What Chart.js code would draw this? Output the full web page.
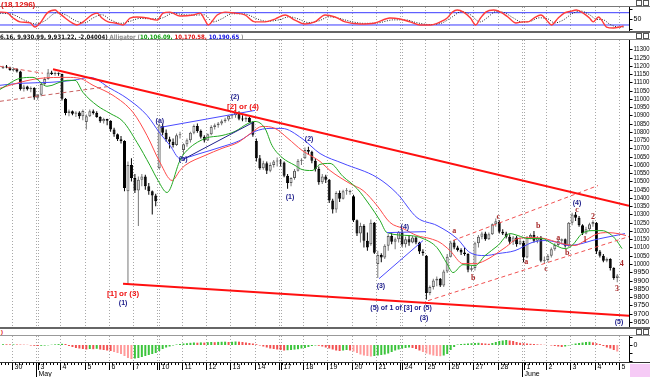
<!DOCTYPE html>
<html><head><meta charset="utf-8">
<script src="https://cdn.jsdelivr.net/npm/chart.js@4.4.1/dist/chart.umd.min.js"></script>
<style>
html,body{margin:0;padding:0;background:#fff;}
#wrap{position:relative;width:650px;height:377px;overflow:hidden;background:#fff;}
canvas{position:absolute;left:0;display:block;}
.ln{position:absolute;left:0;width:650px;}
.txt{position:absolute;white-space:nowrap;line-height:1;}
.ic{position:absolute;width:4px;height:4px;border:1px solid #555;background:#fff;}
</style></head><body><div id="wrap">
<canvas id="cS" width="650" height="24" style="top:7px"></canvas>
<canvas id="cM" width="650" height="287" style="top:40px"></canvas>
<canvas id="cH" width="650" height="41" style="top:336px"></canvas>
<div class="ln" style="top:6px;height:1px;background:#777"></div>
<div class="ln" style="top:31px;height:2px;background:#666"></div>
<div class="ln" style="top:39px;height:1px;background:#888"></div>
<div class="ln" style="top:327px;height:2px;background:#666"></div>
<div class="ln" style="top:335px;height:1px;background:#999"></div>
<div class="txt" style="left:1px;top:0px;font:bold 8px 'Liberation Sans',Arial,sans-serif;color:#e01010">(18.1296)</div>
<div class="txt" style="left:0;top:33px;font:bold 6px 'Liberation Sans Narrow','DejaVu Sans Condensed',sans-serif;color:#111"><span>6.16, 9,930.99, 9,931.22, -2.04004)</span> <span style="color:#8a8a8a">Alligator (</span><span style="color:#10a010">10,106.09, </span><span style="color:#e01010">10,170.58, </span><span style="color:#1010e0">10,190.65</span><span style="color:#8a8a8a"> )</span></div>
<div class="txt" style="left:1px;top:329px;font:bold 6px 'Liberation Sans',sans-serif;color:#e01010">)</div>
<div class="ic" style="left:636px;top:0px"></div><div class="ic" style="left:643px;top:0px"></div>
<div class="ic" style="left:636px;top:33px"></div><div class="ic" style="left:643px;top:33px"></div>
<div class="ic" style="left:636px;top:329px"></div><div class="ic" style="left:643px;top:329px"></div>
<div style="position:absolute;left:630px;top:364px;width:20px;height:13px;background:#f6cbf6"></div>
</div>
<script>
// ---------- DATA ----------
const firstBar = -3; // bar index of first candle (Apr 29, partial)
const opens = [
 11185,11195,11190,
 11175,11180,11165,11060,11075,11058,11065,
 11008,11025,11090,11120,11160,11150,11155,
 11150,11000,10915,10925,10910,10918,10895,
 10860,10895,10925,10915,10890,10865,10878,
 10868,10815,10785,10755,10745,10440,10600,
 10520,10445,10510,10530,10470,10440,10415,
 10580,10835,10795,10755,10740,10720,10780,
 10690,10725,10750,10795,10835,10805,10770,
 10748,10785,10830,10840,10850,10865,10875,
 10897,10900,10915,10880,10875,10885,10860,
 10745,10640,10580,10610,10565,10600,10620,
 10620,10615,10535,10490,10520,10565,10625,
 10640,10690,10680,10625,10575,10495,10530,
 10510,10385,10330,10430,10395,10440,10435,
 10410,10265,10185,10230,10140,10120,10250,
 10000,10055,10040,10110,10170,10135,10150,
 10190,10120,10150,10130,10160,10130,10075,
 10050,9825,9860,9900,9910,9870,9955,
 10044,10130,10100,10085,10070,10060,9965,
 9975,10125,10165,10185,10150,10180,10240,
 10255,10195,10185,10165,10135,10160,10120,
 10130,10040,10160,10175,10140,10160,10020,
 10024,10050,10090,10115,10140,10150,10110,
 10250,10300,10280,10235,10185,10210,10240,
 10250,10075,10050,10020,10030,9975,9915];
const highs = [
 11200,11205,11195,
 11190,11185,11170,11085,11080,11075,11070,
 11030,11100,11130,11180,11170,11165,11160,
 11152,11005,10935,10930,10925,10925,10935,
 10905,10935,10935,10925,10895,10885,10880,
 10870,10825,10790,10775,10750,10620,10640,
 10545,10530,10545,10540,10490,10445,10425,
 10850,10850,10815,10770,10760,10790,10800,
 10730,10760,10800,10845,10850,10815,10780,
 10790,10840,10850,10860,10875,10885,10900,
 10910,10930,10925,10900,10895,10890,10865,
 10760,10660,10625,10620,10615,10630,10645,
 10635,10620,10545,10525,10575,10635,10640,
 10705,10710,10685,10640,10590,10545,10540,
 10515,10395,10440,10445,10450,10460,10450,
 10420,10270,10250,10240,10190,10270,10255,
 10080,10065,10120,10180,10190,10160,10200,
 10205,10165,10175,10170,10165,10135,10090,
 10055,9870,9910,9925,9915,9965,10060,
 10140,10145,10110,10095,10100,10065,9990,
 10135,10175,10195,10195,10190,10245,10275,
 10265,10210,10195,10180,10170,10170,10160,
 10140,10170,10185,10200,10170,10170,10045,
 10060,10100,10125,10150,10155,10155,10255,
 10310,10315,10290,10240,10225,10250,10265,
 10255,10085,10060,10040,10035,9980,9940];
const lows = [
 11180,11185,11170,
 11165,11160,11050,11045,11050,11040,10995,
 10995,11015,11080,11115,11145,11140,11140,
 10990,10900,10895,10900,10890,10880,10870,
 10815,10890,10905,10885,10855,10850,10840,
 10800,10770,10745,10730,10440,9875,10500,
 10430,10230,10470,10450,10420,10300,10350,
 10575,10780,10740,10700,10705,10715,10760,
 10665,10710,10735,10785,10795,10760,10735,
 10745,10780,10815,10825,10840,10855,10865,
 10880,10885,10870,10865,10860,10855,10770,
 10620,10570,10570,10545,10555,10585,10590,
 10590,10525,10455,10470,10510,10560,10600,
 10635,10660,10610,10560,10480,10485,10490,
 10370,10305,10310,10375,10390,10420,10420,
 10255,10170,10130,10100,10080,10110,10060,
 9915,10010,10030,10080,10120,10090,10130,
 10105,10100,10110,10125,10120,10060,10050,
 9785,9810,9845,9865,9860,9860,9945,
 10040,10090,10075,10055,10050,9950,9955,
 9960,10100,10150,10140,10145,10175,10225,
 10185,10175,10155,10120,10115,10105,10115,
 10010,10035,10150,10130,10125,10010,10005,
 10010,10040,10080,10105,10120,10100,10105,
 10235,10260,10225,10175,10180,10200,10225,
 10060,10040,10010,10010,9960,9905,9890];
const closes = [
 11195,11190,11175,
 11180,11165,11060,11075,11058,11065,11008,
 11025,11090,11120,11160,11150,11155,11152,
 11000,10915,10925,10910,10918,10895,10927,
 10895,10925,10915,10890,10865,10878,10868,
 10815,10785,10755,10745,10460,10600,10520,
 10445,10510,10530,10470,10440,10415,10380,
 10840,10795,10755,10740,10720,10780,10785,
 10725,10750,10795,10835,10805,10770,10748,
 10785,10830,10840,10850,10865,10875,10897,
 10900,10920,10880,10875,10885,10860,10783,
 10640,10580,10610,10565,10600,10620,10620,
 10615,10535,10490,10520,10565,10625,10626,
 10690,10680,10625,10575,10495,10530,10510,
 10385,10330,10430,10395,10440,10440,10444,
 10265,10185,10230,10140,10100,10250,10068,
 10055,10040,10110,10170,10135,10150,10193,
 10120,10150,10130,10160,10130,10075,10067,
 9825,9860,9900,9910,9870,9955,10044,
 10130,10100,10085,10070,10060,9965,9974,
 10125,10165,10185,10150,10180,10240,10259,
 10195,10185,10165,10135,10160,10120,10137,
 10040,10160,10175,10140,10160,10020,10024,
 10050,10090,10115,10140,10150,10110,10249,
 10300,10280,10235,10185,10210,10240,10255,
 10075,10050,10020,10030,9975,9915,9931];

// Alligator lines (bar index, price)
const lipsX  = [-3.88,1.89,5.64,9.67,15.43,17.74,20.04,24.08,27.83,31.57,35.61,39.35,41.66,44.25,47.99,49.44,55.2,60.1,63.85,67.6,69.61,72.49,74.51,77.39,81.14,83.16,86.04,88.35,91.23,94.97,99.01,102.75,105.64,107.65,114.28,118.03,122.06,124.95,126.67,129.55,133.01,135.9,139.64,143.1,145.41,148.29,152.32,155.21,158.95,160.97,163.85,166.73,169.61,171.34,173.36,175.38];
const lipsY  = [11057,11124,11130,11076,11112,11112,11039,10960,10912,10863,10736,10597,10506,10433,10627,10675,10760,10778,10803,10851,10863,10821,10718,10645,10597,10572,10566,10603,10609,10530,10457,10354,10263,10190,10172,10154,10099,10002,9948,9996,9990,10051,10112,10184,10172,10154,10154,10124,10093,10112,10184,10202,10202,10190,10154,10093];
const teethX = [-3.88,1.89,7.65,15.43,19.18,22.93,28.69,34.45,38.49,42.23,45.69,47.99,49.44,55.2,60.1,64.71,68.75,71.63,75.38,79.12,83.16,88.35,91.23,96.99,100.74,104.77,108.52,112.26,116.3,120.04,122.93,125.81,129.55,133.01,135.9,141.66,145.41,149.44,153.19,156.94,161.83,164.71,168.46,171.34,174.22,176.53];
const teethY = [11064,11100,11124,11130,11124,11082,11021,10918,10778,10615,10506,10566,10597,10657,10700,10736,10797,10833,10821,10760,10688,10621,10566,10487,10445,10354,10251,10215,10172,10154,10130,10081,10002,10002,10021,10099,10154,10160,10154,10130,10112,10142,10184,10190,10184,10172];
const jawX   = [-3.88,1.89,10.53,17.16,22.06,27.83,32.73,38.49,42.23,45.12,47.99,53.76,59.5,65.29,69.61,73.93,77.39,83.16,88.35,94.97,104.77,110.54,116.3,122.06,127.83,131.57,135.9,139.64,144.54,149.44,153.19,156.94,159.82,163.85,166.73,170.48,173.36,176.24];
const jawY   = [11082,11094,11100,11112,11130,11064,11003,10900,10791,10718,10639,10669,10706,10748,10803,10821,10821,10760,10669,10609,10524,10427,10281,10233,10154,10069,10051,10063,10081,10130,10142,10130,10112,10124,10142,10160,10172,10184];

// Hand-drawn trend lines (bar index, price)
const trendUpper   = [[11.4,11179],[177.39,10353]];
const trendLower   = [[31.57,9881],[177.39,9686]];
const dashEarlyTop = [[-3.88,11197],[8.52,11155]];
const dashEarlyLow = [[-3.88,10985],[27.8,11076]];
const dashChanTop  = [[126.67,10142],[168.46,10475]];
const dashChanLow  = [[119.47,9778],[177.39,10166]];
const blueChanTop  = [[42.23,10827],[69.61,10930]];
const blueChanLow  = [[48.86,10633],[69.04,10857]];
const blueTriDiag  = [[105.35,9911],[118.03,10142]];
const blueTriFlat  = [[107.65,10190],[118.9,10196]];

// Wave-count labels: text, bar index, price, style
const waveLabels = [
 ['(2)',63.85,11009,'n'],['[2] or (4)',66.15,10954,'r'],['(a)',42.2,10863,'n'],['(b)',48.9,10633,'n'],
 ['(2)',85.2,10754,'n'],['(1)',79.7,10403,'n'],['(4)',112.8,10221,'n'],['(3)',105.9,9869,'n'],
 ['[1] or (3)',31.6,9820,'r'],['(1)',31.6,9766,'n'],['(5) of 1 of [3] or (5)',111.7,9735,'n'],['(3)',118.3,9675,'n'],
 ['(4)',162.4,10366,'n'],['(5)',174.5,9651,'n'],
 ['a',127,10202,'s'],['b',132.5,9917,'s'],['c',139.7,10287,'s'],['a',147.8,10015,'s'],['b',151.2,10233,'s'],
 ['c',153.5,9972,'s'],['a',157,10160,'s'],['b',159.6,10069,'s'],['c',162.4,10330,'s'],['1',164.7,10148,'s'],
 ['2',167,10287,'s'],['4',175.3,10003,'s'],['3',173.9,9851,'s']
];

// Stochastic (%K red, %D dotted) : bar index, value
const stochKX = [-3.9,-1.9,-0.1,1.9,4.8,6.2,7.7,9.7,12,12.8,14.9,16.9,18.3,20.1,22.6,24.1,25.5,27.3,29.3,31.6,33.6,35.6,38.5,41.4,43.1,45.1,48,51.8,53.8,55.2,56.1,58.7,61,63.9,66.7,69.6,72.5,75.4,78.3,81.1,84,86.9,89.8,92.7,95.6,99.9,104.2,108.5,111.4,114.3,117.2,120.1,123,125,126.5,127.9,129.7,131.7,133.2,134.6,136.1,138.4,140.4,142.5,144.8,146.8,148.3,150,152,154.1,155,157,158.7,160.8,162.2,164.2,166,167.1,168.6,169.5,170.9,172.9,174.7,175.8];
const stochKY = [83,80,54,35,30,10,30,78,93,83,54,30,20,35,69,78,54,35,30,20,54,59,54,44,78,83,64,69,78,44,20,69,83,78,69,35,35,49,69,44,25,35,69,59,35,25,30,54,49,35,20,20,35,54,83,93,83,54,20,54,83,93,83,59,30,35,35,54,69,35,20,54,78,88,93,78,54,35,59,44,10,5,10,15];
const stochDX = [-3.9,0,3,6.5,9,12.5,15,18,20.5,23,25.5,28,31,33.5,36.5,40,43,46,49,52,55,57.5,60,63,66.5,70.5,73,76.5,79.5,82,85,88,91,94,97,101,105,109.5,113,116,120,123.5,126.5,129,131.5,134.5,136.5,139,141.5,144,146.5,149,151.5,154,156,158.5,161,163.5,166,168,170,172,174.5,176];
const stochDY = [78,70,45,25,40,80,70,40,30,55,70,45,28,38,52,50,55,78,70,68,70,35,50,75,74,48,38,45,60,50,32,40,60,52,38,28,30,45,45,32,22,30,60,85,72,35,55,85,80,55,35,38,55,50,30,45,75,88,70,48,45,22,10,10];
const stochLevels = [80,20];

// Oscillator histogram, one value per candle
const histValues = [
 0.8,0.7,0.6,0.6,0.5,0.4,0.3,0.2,
 -0.5,-0.8,-1,-0.8,-0.6,
 -0.3,0.3,0.6,0.9, 1.2,1.0,
 -1,-2,-3,-3.5,-4,-4.5,
 -4,-4.2,-3.8,-4.5,-5,-5.5,
 -6,-7,-8,-9,-11,-13,-14,
 -13.5,-13,-12,-11,-10,-9,-8,
 -6,-4,-2.5, -1.5,-0.5,0.5,1,1.5,1.8,
 2.2,2.5,2.3,2.6,2.4, 2.8,3,2.8,3.1,
 3.2,3.3,3.0,3.2,3.5,3.3,3.0,2.5,2.0,1.5,0.8,
 -0.5,-1.5,-2.5,-3.5,-4,-4.5,-5,-5.5,-5.2,-5.0,-4.6,-4.2,
 -3.5,-3,-2, -1,-0.5,-0.8,-1.5,
 -2.5,-3.5,-4.5,-5.5,-6, -5.5,-5,-5.5,-6.5,
 -8,-9.5,-10.5,-11, -11.5,-11,-10.5,-10,-9.5,
 -8.5,-7,-5.5,-4.5, -3.5,-3,-2.5,-3,
 -4,-5.5,-7,-8.5, -9.5,-10.5,-11,-11.2,-10.5,-9,
 -5,-2, 0.5,1,1.2,1.5,1.8,2,2.2, 1.8,1.5,1.2,
 2,3,4,4.5,5, 4.5,4,3,2.2, 1.8,1.5,1.2,1.0,
 0.6,0.4,0.2,0, -0.5,-1,-1.5,-2,-1.5, -0.5,0.5,1.5,
 2,2.5,3,3.2, 2.6,1.8,1, -1,-2.5,-3.5, -5,-6.5];

const priceTicks = [11300,11250,11200,11150,11100,11050,11000,10950,10900,10850,10800,10750,10700,10650,10600,10550,10500,10450,10400,10350,10300,10250,10200,10150,10100,10050,10000,9950,9900,9850,9800,9750,9700,9650];
const dayLabels = ['30','3','4','5','6','7','10','11','12','13','14','17','18','19','20','21','24','25','26','27','28','1','2','3','4','5'];
const monthNames = {1:'May', 21:'June'};
const weekStarts = [1,6,11,16,21];

// ---------- RENDERING ----------
const X_MIN = -3.875, X_MAX = 177.39, BARS_PER_DAY = 7;
const AXFONT = "7px 'Liberation Sans',Arial,sans-serif";
const pts = (xs, ys) => xs.slice(0, Math.min(xs.length, ys.length)).map((x,k)=>({x, y: ys[k]}));
const seg = p => p.map(([x,y])=>({x,y}));
const baseOpts = (ymin, ymax, padBottom) => ({
  responsive:false, animation:false, events:[], devicePixelRatio:1,
  layout:{padding:{left:0,right:21,top:0,bottom:padBottom||0}},
  plugins:{legend:{display:false}, tooltip:{enabled:false}},
  scales:{ x:{type:'linear', min:X_MIN, max:X_MAX, display:false, offset:false},
           y:{min:ymin, max:ymax, display:false} }
});
const dayGrid = {
  id:'dayGrid',
  beforeDatasetsDraw(ch){
    const {ctx, chartArea:a, scales:{x}} = ch;
    ctx.save(); ctx.strokeStyle='#a8a8a8'; ctx.lineWidth=1; ctx.setLineDash([1,2]);
    const vl = px => { ctx.beginPath(); ctx.moveTo(px,a.top); ctx.lineTo(px,a.bottom); ctx.stroke(); };
    dayLabels.forEach((d,k)=>{
      const px = Math.round(x.getPixelForValue(BARS_PER_DAY*k-0.5))+0.5;
      vl(px); if (weekStarts.includes(k)) vl(px+2);
    });
    ctx.restore();
  }
};
function rightAxis(ticks, labels){
  return { id:'rightAxis', afterDraw(ch){
    const {ctx, chartArea:a, scales:{y}} = ch;
    ctx.save(); ctx.strokeStyle='#000'; ctx.lineWidth=1;
    const ax = Math.round(a.right)+0.5;
    ctx.beginPath(); ctx.moveTo(ax,a.top); ctx.lineTo(ax,a.bottom); ctx.stroke();
    ctx.font = AXFONT; ctx.fillStyle='#000'; ctx.textAlign='left'; ctx.textBaseline='middle';
    ticks.forEach((v,k)=>{
      const py = Math.round(y.getPixelForValue(v))+0.5;
      ctx.beginPath(); ctx.moveTo(ax,py); ctx.lineTo(ax+3,py); ctx.stroke();
      if (labels[k]) ctx.fillText(labels[k], ax+4, py, 16);
    });
    ctx.restore();
  }};
}
const waveText = {
  id:'waveText',
  afterDatasetsDraw(ch){
    const {ctx, scales:{x,y}} = ch;
    ctx.save(); ctx.textAlign='center'; ctx.textBaseline='middle';
    const st = { n:["bold 7px 'Liberation Sans',Arial,sans-serif",'#1c1c8a'],
                 r:["bold 8px 'Liberation Sans',Arial,sans-serif",'#ee1111'],
                 s:["bold 8px 'Liberation Serif',serif",'#a82a2a'] };
    waveLabels.forEach(([t,bx,p,s])=>{
      ctx.font = st[s][0]; ctx.fillStyle = st[s][1];
      ctx.fillText(t, x.getPixelForValue(bx), y.getPixelForValue(p));
    });
    ctx.restore();
  }
};
const dateAxis = {
  id:'dateAxis',
  afterDraw(ch){
    const {ctx, chartArea:a, scales:{x}} = ch;
    const y0 = Math.round(a.bottom);
    ctx.save();
    ctx.fillStyle='#333'; ctx.fillRect(0,y0,650,1);
    ctx.strokeStyle='#000'; ctx.lineWidth=1;
    for (let k=0;k<opens.length;k++){
      const px = Math.round(x.getPixelForValue(firstBar+k-0.5))+0.5;
      ctx.beginPath(); ctx.moveTo(px,y0+1); ctx.lineTo(px,y0+3); ctx.stroke();
    }
    ctx.font = AXFONT; ctx.fillStyle='#000'; ctx.textAlign='left'; ctx.textBaseline='middle';
    dayLabels.forEach((lab,k)=>{
      const px = Math.round(x.getPixelForValue(BARS_PER_DAY*k-0.5))+0.5;
      const bottom = monthNames[k] ? ch.height : y0+8;
      ctx.beginPath(); ctx.moveTo(px,y0+1); ctx.lineTo(px,bottom); ctx.stroke();
      let lx = px+2;
      if (weekStarts.includes(k)) { ctx.beginPath(); ctx.moveTo(px+2,y0+1); ctx.lineTo(px+2,y0+8); ctx.stroke(); lx = px+4; }
      ctx.fillText(lab, lx, y0+5.5);
      if (monthNames[k]) ctx.fillText(monthNames[k], px+2, y0+12);
    });
    ctx.restore();
  }
};

// Stochastic panel
new Chart(document.getElementById('cS'), {
  type:'line',
  data:{ datasets:[
    ...stochLevels.map(v=>({data:[{x:X_MIN,y:v},{x:X_MAX,y:v}], borderColor:'#3a3aff', borderWidth:1, pointRadius:0, order:5})),
    {data:pts(stochDX,stochDY), borderColor:'#222', borderWidth:1, borderDash:[1,1.5], pointRadius:0, tension:0.4, cubicInterpolationMode:'monotone', order:2},
    {data:pts(stochKX,stochKY), borderColor:'#ff3b3b', borderWidth:1.4, pointRadius:0, tension:0.4, cubicInterpolationMode:'monotone', order:1}
  ]},
  options: baseOpts(-9.3, 107.8),
  plugins:[dayGrid, rightAxis([100,50,0],['','50',''])]
});

// Main price panel
const bars = opens.map((o,k)=>({i:firstBar+k, o, h:highs[k], l:lows[k], c:closes[k]}));
const lineDS = (data, color, width, dash, order) => ({type:'line', data, borderColor:color, borderWidth:width, borderDash:dash||[], pointRadius:0, tension:0, order});
new Chart(document.getElementById('cM'), {
  type:'bar',
  data:{ datasets:[
    {type:'bar', data:bars.map(b=>({x:b.i, y:[b.l,b.h]})), backgroundColor:bars.map(b=>b.c>=b.o?'#777':'#000'),
     barThickness:1, grouped:false, borderWidth:0, inflateAmount:0, order:20},
    {type:'bar', data:bars.map(b=>({x:b.i, y:[b.o,b.c]})), backgroundColor:bars.map(b=>b.c>=b.o?'#dedede':'#000'),
     borderColor:bars.map(b=>b.c>=b.o?'#5a5a5a':'#000'), borderWidth:1, borderSkipped:false, barThickness:3, minBarLength:1,
     grouped:false, inflateAmount:0, order:19},
    {type:'line', data:pts(jawX,jawY), borderColor:'#4848ff', borderWidth:1, pointRadius:0, tension:0.4, cubicInterpolationMode:'monotone', order:10},
    {type:'line', data:pts(teethX,teethY), borderColor:'#ff4a4a', borderWidth:1, pointRadius:0, tension:0.4, cubicInterpolationMode:'monotone', order:9},
    {type:'line', data:pts(lipsX,lipsY), borderColor:'#22a822', borderWidth:1, pointRadius:0, tension:0.4, cubicInterpolationMode:'monotone', order:8},
    lineDS(seg(dashEarlyTop),'#e05a5a',1,[4,3],4),
    lineDS(seg(dashEarlyLow),'#c86060',1,[4,3],4),
    lineDS(seg(dashChanTop),'#f05050',1,[4,3],4),
    lineDS(seg(dashChanLow),'#f05050',1,[4,3],4),
    lineDS(seg(blueChanTop),'#4a4aff',1,null,3),
    lineDS(seg(blueChanLow),'#20208a',1,null,3),
    lineDS(seg(blueTriDiag),'#4a4aff',1,null,3),
    lineDS(seg(blueTriFlat),'#4a4aff',1,null,3),
    lineDS(seg(trendUpper),'#ff1010',2,null,1),
    lineDS(seg(trendLower),'#ff1010',2,null,1)
  ]},
  options: baseOpts(9618.5, 11356.3),
  plugins:[dayGrid, waveText, rightAxis(priceTicks, priceTicks.map(String))]
});

// Oscillator histogram + date axis
const histColors = histValues.map((v,k)=> (k>0 && v < histValues[k-1]) ? (v < -6 ? '#ff9a9a' : '#f25050') : '#3cc43c');
new Chart(document.getElementById('cH'), {
  type:'bar',
  data:{ datasets:[
    {data:histValues.map((v,k)=>({x:firstBar+k, y:v})), backgroundColor:histColors, barThickness:2, grouped:false, borderWidth:0, inflateAmount:0}
  ]},
  options: baseOpts(-17, 9, 15),
  plugins:[dayGrid, rightAxis([8,0,-8,-16],['','0','','']), dateAxis]
});
</script>
</body></html>
